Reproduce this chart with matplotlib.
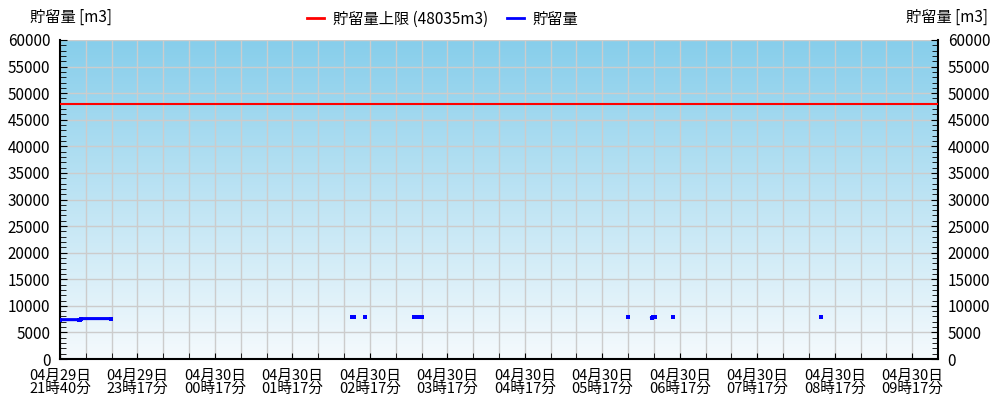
import numpy as np
from matplotlib import pyplot as plt
from matplotlib.lines import Line2D
from matplotlib.ticker import MultipleLocator, FixedLocator

plt.rcParams['font.family'] = ['Noto Sans CJK JP', 'DejaVu Sans']
plt.rcParams['font.size'] = 11

# minutes since 04/29 21:40
t_minutes = [0, 15, 15.5, 16, 39.5, 40,
             226, 228, 229, 236.2, 237,
             274, 276.5, 277, 277.5, 280.5, 281,
             439.6, 440, 458.3, 459.3, 460.6, 461,
             474.7, 475, 589.1]
storage = [7400, 7400, 7250, 7600, 7600, np.nan,
           7850, 7850, np.nan, 7850, np.nan,
           7850, 7850, np.nan, 7850, 7850, np.nan,
           7950, np.nan, 7800, 7950, 7950, np.nan,
           7950, np.nan, 7950]
limit = 48035

tick_pos = [0, 60, 120, 180, 240, 300, 360, 420, 480, 540, 600, 660]
tick_labels = ['04月29日\n21時40分', '04月29日\n23時17分', '04月30日\n00時17分',
               '04月30日\n01時17分', '04月30日\n02時17分', '04月30日\n03時17分',
               '04月30日\n04時17分', '04月30日\n05時17分', '04月30日\n06時17分',
               '04月30日\n07時17分', '04月30日\n08時17分', '04月30日\n09時17分']

fig = plt.figure(figsize=(10, 4), dpi=100)
ax = fig.add_axes([0.06, 0.1025, 0.878, 0.7975])

# background gradient
top = np.array([135, 206, 235]) / 255
bot = np.array([245, 250, 253]) / 255
g = np.linspace(0, 1, 256)[:, None]
grad = (top * (1 - g) + bot * g)[:, None, :]
ax.imshow(grad, extent=[0, 680, 0, 60000], aspect='auto', zorder=0)

ax.set_xlim(0, 680)
ax.set_ylim(0, 60000)

ax.xaxis.set_major_locator(FixedLocator(tick_pos))
ax.set_xticklabels(tick_labels, linespacing=0.9, fontsize=10.5)
ax.xaxis.set_minor_locator(MultipleLocator(20))
ax.yaxis.set_major_locator(MultipleLocator(5000))
ax.yaxis.set_minor_locator(MultipleLocator(1000))

ax.grid(True, which='major', color='#cccccc', linewidth=1, zorder=1)
ax.grid(True, which='minor', axis='x', color='#cccccc', linewidth=1, zorder=1)

ax.tick_params(axis='y', which='both', direction='in', left=True, right=True,
               labelleft=True, labelright=True, pad=7)
ax.tick_params(axis='y', which='major', length=5)
ax.tick_params(axis='y', which='minor', length=4)
ax.tick_params(axis='x', which='both', direction='in', length=4, pad=7)

ax.spines['top'].set_visible(False)
for s in ['left', 'right', 'bottom']:
    ax.spines[s].set_linewidth(1.5)

ax.axhline(limit, color='#ff0000', linewidth=1.5, zorder=3)
ax.plot(t_minutes, storage, color='#0000ff', linewidth=2.2, marker='s',
        markersize=2.6, markeredgewidth=0, zorder=4)

fig.text(0.03, 0.957, '貯留量 [m3]', ha='left', va='center')
fig.text(0.988, 0.957, '貯留量 [m3]', ha='right', va='center')

handles = [Line2D([], [], color='#ff0000', linewidth=2),
           Line2D([], [], color='#0000ff', linewidth=2)]
fig.legend(handles, ['貯留量上限 (48035m3)', '貯留量'], loc='center',
           bbox_to_anchor=(0.443, 0.952), ncol=2, frameon=False,
           handlelength=1.1, handletextpad=0.6, columnspacing=1.2)

fig.savefig('out.png', dpi=100)
